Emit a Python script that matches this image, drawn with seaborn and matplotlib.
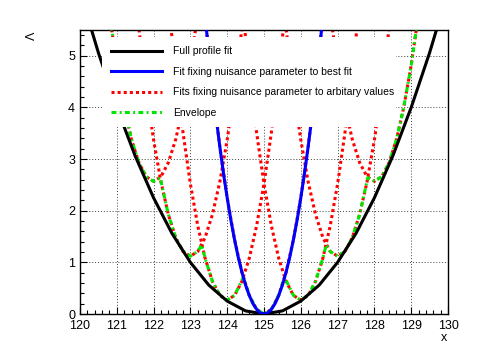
import matplotlib
matplotlib.use("Agg")
import matplotlib.pyplot as plt
import seaborn as sns

# Full profile fit (black)
black_x = [120.0, 120.5, 121.0, 121.5, 122.0, 122.5, 123.0, 123.5, 124.0, 124.5, 125.0,
           125.5, 126.0, 126.5, 127.0, 127.5, 128.0, 128.5, 129.0, 129.5, 130.0]
black_y = [6.25, 5.06, 4.00, 3.06, 2.25, 1.56, 1.00, 0.56, 0.25, 0.06, 0.00,
           0.06, 0.25, 0.56, 1.00, 1.56, 2.25, 3.06, 4.00, 5.06, 6.25]

# Fit fixing nuisance parameter to best fit (blue)
blue_x = [123.4, 123.5, 123.6, 123.7, 123.8, 123.9, 124.0, 124.1, 124.2, 124.3, 124.4,
          124.5, 124.6, 124.7, 124.8, 124.9, 125.0, 125.1, 125.2, 125.3, 125.4, 125.5,
          125.6, 125.7, 125.8, 125.9, 126.0, 126.1, 126.2, 126.3, 126.4, 126.5, 126.6]
blue_y = [5.76, 5.06, 4.41, 3.80, 3.24, 2.72, 2.25, 1.82, 1.44, 1.10, 0.81,
          0.56, 0.36, 0.20, 0.09, 0.02, 0.00, 0.02, 0.09, 0.20, 0.36, 0.56,
          0.81, 1.10, 1.44, 1.82, 2.25, 2.72, 3.24, 3.80, 4.41, 5.06, 5.76]

# Fits fixing nuisance parameter to arbitrary values (red), one curve per value
red_x = {
    122: [120.4, 120.6, 120.8, 121.0, 121.2, 121.4, 121.6, 121.8, 122.0,
          122.2, 122.4, 122.6, 122.8, 123.0, 123.2, 123.4, 123.6],
    123: [121.4, 121.6, 121.8, 122.0, 122.2, 122.4, 122.6, 122.8, 123.0,
          123.2, 123.4, 123.6, 123.8, 124.0, 124.2, 124.4, 124.6],
    124: [122.4, 122.6, 122.8, 123.0, 123.2, 123.4, 123.6, 123.8, 124.0,
          124.2, 124.4, 124.6, 124.8, 125.0, 125.2, 125.4, 125.6],
    125: [123.4, 123.6, 123.8, 124.0, 124.2, 124.4, 124.6, 124.8, 125.0,
          125.2, 125.4, 125.6, 125.8, 126.0, 126.2, 126.4, 126.6],
    126: [124.4, 124.6, 124.8, 125.0, 125.2, 125.4, 125.6, 125.8, 126.0,
          126.2, 126.4, 126.6, 126.8, 127.0, 127.2, 127.4, 127.6],
    127: [125.4, 125.6, 125.8, 126.0, 126.2, 126.4, 126.6, 126.8, 127.0,
          127.2, 127.4, 127.6, 127.8, 128.0, 128.2, 128.4, 128.6],
    128: [126.4, 126.6, 126.8, 127.0, 127.2, 127.4, 127.6, 127.8, 128.0,
          128.2, 128.4, 128.6, 128.8, 129.0, 129.2, 129.4, 129.6],
}
red_y = {
    122: [8.33, 6.98, 5.81, 4.82, 4.01, 3.38, 2.93, 2.66, 2.57,
          2.66, 2.93, 3.38, 4.01, 4.82, 5.81, 6.98, 8.33],
    123: [6.88, 5.53, 4.36, 3.37, 2.56, 1.93, 1.48, 1.21, 1.12,
          1.21, 1.48, 1.93, 2.56, 3.37, 4.36, 5.53, 6.88],
    124: [6.03, 4.68, 3.51, 2.52, 1.71, 1.08, 0.63, 0.36, 0.27,
          0.36, 0.63, 1.08, 1.71, 2.52, 3.51, 4.68, 6.03],
    125: [5.76, 4.41, 3.24, 2.25, 1.44, 0.81, 0.36, 0.09, 0.00,
          0.09, 0.36, 0.81, 1.44, 2.25, 3.24, 4.41, 5.76],
    126: [6.03, 4.68, 3.51, 2.52, 1.71, 1.08, 0.63, 0.36, 0.27,
          0.36, 0.63, 1.08, 1.71, 2.52, 3.51, 4.68, 6.03],
    127: [6.88, 5.53, 4.36, 3.37, 2.56, 1.93, 1.48, 1.21, 1.12,
          1.21, 1.48, 1.93, 2.56, 3.37, 4.36, 5.53, 6.88],
    128: [8.33, 6.98, 5.81, 4.82, 4.01, 3.38, 2.93, 2.66, 2.57,
          2.66, 2.93, 3.38, 4.01, 4.82, 5.81, 6.98, 8.33],
}

# Envelope (green)
env_x = [120.6, 120.8, 121.0, 121.2, 121.4, 121.6, 121.8, 122.0, 122.18, 122.4,
         122.6, 122.8, 123.0, 123.2, 123.31, 123.4, 123.6, 123.8, 124.0, 124.2,
         124.44, 124.6, 124.8, 125.0, 125.2, 125.4, 125.56, 125.8, 126.0, 126.2,
         126.4, 126.6, 126.69, 126.8, 127.0, 127.2, 127.4, 127.6, 127.82, 128.0,
         128.2, 128.4, 128.6, 128.8, 129.0, 129.2, 129.4]
env_y = [6.98, 5.81, 4.82, 4.01, 3.38, 2.93, 2.66, 2.57, 2.64, 1.93,
         1.48, 1.21, 1.12, 1.21, 1.34, 1.08, 0.63, 0.36, 0.27, 0.36,
         0.71, 0.36, 0.09, 0.00, 0.09, 0.36, 0.71, 0.36, 0.27, 0.36,
         0.63, 1.08, 1.34, 1.21, 1.12, 1.21, 1.48, 1.93, 2.64, 2.57,
         2.66, 2.93, 3.38, 4.01, 4.82, 5.81, 6.98]

labels = ["Full profile fit",
          "Fit fixing nuisance parameter to best fit",
          "Fits fixing nuisance parameter to arbitary values",
          "Envelope"]

plt.rcParams["font.family"] = ["Liberation Sans", "DejaVu Sans"]

fig = plt.figure(figsize=(4.98, 3.58), dpi=100)
ax = fig.add_axes([0.1606, 0.1229, 0.739, 0.7933])

lw = 2.2
red_line = None
for key in red_x:
    sns.lineplot(x=red_x[key], y=red_y[key], ax=ax, sort=False, estimator=None,
                 color="#ff0000", linewidth=lw, linestyle=(0, (1, 1)), zorder=2)
    if red_line is None:
        red_line = ax.get_lines()[-1]

sns.lineplot(x=env_x, y=env_y, ax=ax, sort=False, estimator=None,
             color="#00e600", linewidth=lw, linestyle=(0, (1.6, 1.1, 0.6, 1.1)), zorder=3)
env_line = ax.get_lines()[-1]

sns.lineplot(x=black_x, y=black_y, ax=ax, sort=False, estimator=None,
             color="black", linewidth=lw, zorder=4)
black_line = ax.get_lines()[-1]

sns.lineplot(x=blue_x, y=blue_y, ax=ax, sort=False, estimator=None,
             color="#0000ff", linewidth=lw, zorder=5)
blue_line = ax.get_lines()[-1]

ax.set_xlim(120, 130)
ax.set_ylim(0, 5.5)
ax.set_xticks(range(120, 131))
ax.set_yticks(range(0, 6))
ax.set_xticks([120 + 0.2 * i for i in range(51)], minor=True)
ax.set_yticks([0.2 * i for i in range(28)], minor=True)
ax.tick_params(which="both", direction="in", top=False, right=False, labelsize=9)
ax.tick_params(axis="x", which="both", pad=4.5)
ax.tick_params(axis="y", which="both", pad=3.5)
ax.tick_params(which="major", length=5, width=0.8)
ax.tick_params(which="minor", length=3, width=0.8)
ax.grid(True, which="major", color="0.25", linestyle=(0, (1, 2)), linewidth=0.7)
ax.set_axisbelow(True)
for s in ax.spines.values():
    s.set_linewidth(1.0)
    s.set_color("black")
ax.set_xlabel("")
ax.set_ylabel("")

ax.text(0.99, -0.086, "x", transform=ax.transAxes, ha="center", va="center", fontsize=9)
ax.text(-0.13, 0.98, "Λ", transform=ax.transAxes, ha="center", va="center",
        fontsize=9, rotation=90)

leg = ax.legend([black_line, blue_line, red_line, env_line], labels,
                loc="upper left", bbox_to_anchor=(0.06, 0.665, 0.80, 0.31),
                mode="expand", borderaxespad=0, fontsize=7.5, frameon=True,
                fancybox=False, framealpha=1, facecolor="white", edgecolor="none",
                handlelength=4.9, handletextpad=1.05, labelspacing=1.0, borderpad=0.9)
leg.set_zorder(10)

fig.savefig("out.png", dpi=100)
